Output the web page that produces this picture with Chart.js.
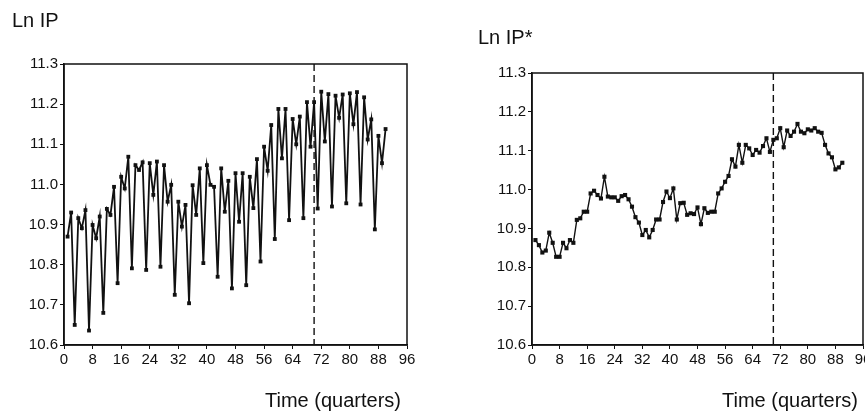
<!DOCTYPE html>
<html><head><meta charset="utf-8">
<script src="https://cdn.jsdelivr.net/npm/chart.js@4.4.1/dist/chart.umd.min.js"></script>
<style>
html,body{margin:0;padding:0;background:#fff;width:865px;height:412px;overflow:hidden;position:relative;font-family:"Liberation Sans",Arial,sans-serif;}
.wrap{position:absolute;top:0;}
.lbl{position:absolute;font-size:20px;color:#111;white-space:nowrap;line-height:20px;}
</style></head><body>
<div class="wrap" style="left:0px"><canvas id="c1" width="430" height="412"></canvas></div>
<div class="wrap" style="left:460px"><canvas id="c2" width="420" height="412"></canvas></div>
<div class="lbl" style="left:12px;top:10px">Ln IP</div>
<div class="lbl" style="left:478px;top:27px">Ln IP*</div>
<div class="lbl" style="left:265px;top:390px">Time (quarters)</div>
<div class="lbl" style="left:722px;top:390px">Time (quarters)</div>
<script>
// ---- data ----
const quarters = [1,2,3,4,5,6,7,8,9,10,11,12,13,14,15,16,17,18,19,20,21,22,23,24,25,26,27,28,29,30,
31,32,33,34,35,36,37,38,39,40,41,42,43,44,45,46,47,48,49,50,51,52,53,54,55,56,57,58,59,60,
61,62,63,64,65,66,67,68,69,70,71,72,73,74,75,76,77,78,79,80,81,82,83,84,85,86,87,88,89,90];

const lnIP = [10.87, 10.93, 10.65, 10.916, 10.891, 10.936, 10.636, 10.899, 10.866, 10.92,
10.68, 10.939, 10.924, 10.994, 10.754, 11.019, 10.99, 11.069, 10.791, 11.048,
11.036, 11.055, 10.787, 11.053, 10.974, 11.057, 10.795, 11.048, 10.957, 10.999,
10.725, 10.957, 10.895, 10.949, 10.704, 10.998, 10.924, 11.04, 10.804, 11.048,
10.999, 10.994, 10.77, 11.04, 10.932, 11.009, 10.741, 11.028, 10.907, 11.028,
10.749, 11.019, 10.941, 11.063, 10.808, 11.094, 11.034, 11.148, 10.864, 11.188,
11.065, 11.188, 10.911, 11.163, 11.1, 11.169, 10.916, 11.205, 11.094, 11.205,
10.94, 11.231, 11.107, 11.225, 10.945, 11.221, 11.166, 11.224, 10.953, 11.227,
11.15, 11.23, 10.95, 11.217, 11.112, 11.162, 10.888, 11.121, 11.053, 11.138];

const lnIPStar = [10.87, 10.857, 10.838, 10.843, 10.889, 10.863, 10.827, 10.827, 10.863, 10.849,
10.87, 10.863, 10.922, 10.926, 10.943, 10.943, 10.99, 10.997, 10.986, 10.977,
11.033, 10.982, 10.98, 10.98, 10.971, 10.983, 10.986, 10.975, 10.956, 10.929,
10.915, 10.883, 10.896, 10.877, 10.896, 10.923, 10.923, 10.968, 10.995, 10.978,
11.003, 10.923, 10.965, 10.966, 10.935, 10.939, 10.937, 10.954, 10.911, 10.952,
10.94, 10.943, 10.943, 10.99, 11.003, 11.02, 11.035, 11.078, 11.059, 11.115,
11.069, 11.115, 11.106, 11.089, 11.102, 11.095, 11.112, 11.132, 11.097, 11.128,
11.132, 11.158, 11.109, 11.152, 11.138, 11.149, 11.169, 11.149, 11.145, 11.155,
11.152, 11.158, 11.149, 11.146, 11.115, 11.093, 11.083, 11.052, 11.057, 11.069];

const xTicks = [0, 8, 16, 24, 32, 40, 48, 56, 64, 72, 80, 88, 96];
const yTicks = [10.6, 10.7, 10.8, 10.9, 11.0, 11.1, 11.2, 11.3];
const breakQuarter = 70;

// ---- drawing ----
const INK = '#111';
const framePlugin = {
  id: 'frame',
  afterDatasetsDraw(chart) {
    const {ctx, chartArea: a, scales} = chart;
    ctx.save();
    const bx = scales.x.getPixelForValue(breakQuarter);
    ctx.strokeStyle = INK; ctx.lineWidth = 1.4;
    ctx.setLineDash([7, 4]);
    ctx.beginPath(); ctx.moveTo(bx, a.top); ctx.lineTo(bx, a.bottom); ctx.stroke();
    ctx.setLineDash([]);
    ctx.lineWidth = 1.5;
    ctx.strokeRect(a.left, a.top, a.right - a.left, a.bottom - a.top);
    ctx.restore();
  }
};

function makeChart(id, values, W, H, area, pr, lw) {
  const pts = quarters.map((q, i) => ({x: q, y: values[i]}));
  return new Chart(document.getElementById(id), {
    type: 'line',
    data: {datasets: [{data: pts, borderColor: INK, backgroundColor: INK,
      borderWidth: lw, pointStyle: 'rect', pointRadius: pr, pointHoverRadius: pr,
      pointBackgroundColor: INK, pointBorderColor: INK, pointBorderWidth: 0, tension: 0, fill: false}]},
    options: {
      responsive: false, animation: false, events: [],
      layout: {padding: {left: 0, top: area.top, right: W - area.right, bottom: 0}},
      plugins: {legend: {display: false}, tooltip: {enabled: false}, title: {display: false}},
      scales: {
        x: {type: 'linear', min: xTicks[0], max: xTicks[xTicks.length - 1],
          afterBuildTicks: s => { s.ticks = xTicks.map(v => ({value: v})); },
          afterFit: s => { s.height = H - area.bottom; },
          grid: {display: true, drawOnChartArea: false, drawTicks: true, tickLength: 4, color: INK, lineWidth: 1},
          border: {display: true, color: INK, width: 1.5},
          ticks: {color: INK, padding: 2, maxRotation: 0, autoSkip: false,
            font: {family: '"Liberation Sans", Arial, sans-serif', size: 15}}},
        y: {type: 'linear', min: yTicks[0], max: yTicks[yTicks.length - 1],
          afterBuildTicks: s => { s.ticks = yTicks.map(v => ({value: v})); },
          afterFit: s => { s.width = area.left; },
          grid: {display: true, drawOnChartArea: false, drawTicks: true, tickLength: 4, color: INK, lineWidth: 1},
          border: {display: true, color: INK, width: 1.5},
          ticks: {color: INK, padding: 2, autoSkip: false,
            callback: v => Number(v).toFixed(1),
            font: {family: '"Liberation Sans", Arial, sans-serif', size: 15}}}
      }
    },
    plugins: [framePlugin]
  });
}

makeChart('c1', lnIP, 430, 412, {left: 64, top: 64, right: 407, bottom: 345}, 2.7, 1.8);
makeChart('c2', lnIPStar, 420, 412, {left: 72, top: 73, right: 403, bottom: 345}, 2.9, 1.4);
</script>
</body></html>
